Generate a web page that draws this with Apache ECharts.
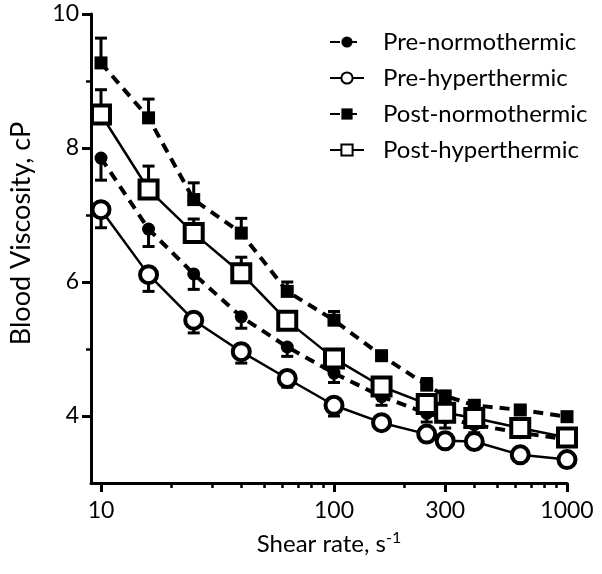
<!DOCTYPE html>
<html>
  <head>
    <meta charset="utf-8" />
    <title>Blood viscosity vs shear rate</title>
    <style>
      html, body { margin: 0; padding: 0; background: #fff; }
    </style>
  </head>
  <body>
    <div id="chart" style="width: 602px; height: 574px"></div>
    <script src="https://cdn.jsdelivr.net/npm/echarts@6/dist/echarts.min.js"></script>
    <script>
      // shear rate (s^-1) on a log axis, viscosity in cP
      const shearRates = [10, 16, 25, 40, 63, 100, 160, 250, 300, 400, 630, 1000];

      const preNormo = [7.85, 6.79, 6.12, 5.48, 5.03, 4.64, 4.29, 4.04, 3.97, 3.87, 3.75, 3.65];
      const preHyper = [7.08, 6.11, 5.43, 4.96, 4.56, 4.16, 3.90, 3.73, 3.63, 3.62, 3.42, 3.35];
      const postNormo = [9.27, 8.45, 7.23, 6.73, 5.86, 5.43, 4.90, 4.46, 4.30, 4.16, 4.09, 3.99];
      const postHyper = [8.50, 7.38, 6.73, 6.13, 5.42, 4.86, 4.44, 4.18, 4.05, 3.97, 3.82, 3.68];

      // one-sided error bars (pre: drawn down, post: drawn up)
      const preNormoErr = [0.33, 0.26, 0.23, 0.17, 0.14, 0.14, 0.13, 0.13, 0.15, 0.12, 0.05, 0.05];
      const preHyperErr = [0.27, 0.25, 0.19, 0.17, 0.13, 0.16, 0.10, 0.11, 0.06, 0.07, 0.04, 0.05];
      const postNormoErr = [0.37, 0.28, 0.25, 0.22, 0.14, 0.13, 0.05, 0.10, 0.05, 0.05, 0.05, 0.03];
      const postHyperErr = [0.37, 0.35, 0.21, 0.24, 0.08, 0.08, 0.09, 0.10, 0.08, 0.06, 0.06, 0.05];

      const xMajorTicks = [10, 100, 300, 1000];
      const xMinorTicks = [20, 30, 40, 50, 60, 70, 80, 90, 200, 400, 500, 600, 700, 800, 900];
      const yMajorTicks = [4, 6, 8, 10];
      const yMinorTicks = [5, 7, 9];

      const FONT = 'Lato';
      const lg = (v) => Math.log10(v);

      function points(vals) {
        return vals.map((v, i) => [lg(shearRates[i]), v]);
      }

      function errData(vals, errs, dir) {
        return vals.map((v, i) => [lg(shearRates[i]), v, v + dir * errs[i]]);
      }

      function renderErr(params, api) {
        const p0 = api.coord([api.value(0), api.value(1)]);
        const p1 = api.coord([api.value(0), api.value(2)]);
        const half = 6;
        const st = { stroke: '#000', lineWidth: 3 };
        return {
          type: 'group',
          children: [
            { type: 'line', shape: { x1: p0[0], y1: p0[1], x2: p1[0], y2: p1[1] }, style: st },
            { type: 'line', shape: { x1: p1[0] - half, y1: p1[1], x2: p1[0] + half, y2: p1[1] }, style: st },
          ],
        };
      }

      function errSeries(vals, errs, dir) {
        return {
          type: 'custom',
          z: 1,
          renderItem: renderErr,
          data: errData(vals, errs, dir),
          silent: true,
        };
      }

      const dashed = { color: '#000', width: 4, type: [10, 7] };
      const solid = { color: '#000', width: 2.5, type: 'solid' };

      let chart = echarts.init(document.getElementById('chart'), null, {
        width: 602,
        height: 574,
      });

      const xMin = lg(9.06);
      const xMax = 3;

      const opts = {
        animation: false,
        textStyle: { fontFamily: FONT, color: '#000' },
        grid: { left: 87, right: 35, top: 14, bottom: 91 },
        legend: {
          data: ['Pre-normothermic', 'Pre-hyperthermic', 'Post-normothermic', 'Post-hyperthermic'],
          orient: 'vertical',
          left: 324,
          top: 25,
          itemWidth: 34,
          itemHeight: 14,
          itemGap: 12,
          textStyle: {
            fontFamily: FONT,
            fontSize: 24,
            color: '#000',
            lineHeight: 24,
            padding: [0, 0, 0, 14],
          },
        },
        xAxis: [
          {
            type: 'value',
            min: xMin,
            max: xMax,
            name: 'Shear rate, s{sup|-1}',
            nameLocation: 'middle',
            nameGap: 47,
            nameTextStyle: {
              fontFamily: FONT,
              fontSize: 24,
              color: '#000',
              rich: {
                sup: { fontFamily: FONT, fontSize: 16, color: '#000', verticalAlign: 'top', padding: [0, 0, 12, 0] },
              },
            },
            axisLine: { show: true, lineStyle: { color: '#000', width: 3 } },
            axisTick: {
              show: true,
              length: 9,
              lineStyle: { color: '#000', width: 3 },
              customValues: xMajorTicks.map(lg),
            },
            axisLabel: {
              show: true,
              margin: 16,
              fontSize: 23,
              color: '#000',
              fontFamily: FONT,
              customValues: xMajorTicks.map(lg),
              formatter: (v) => String(Math.round(Math.pow(10, v))),
            },
            splitLine: { show: false },
          },
          {
            type: 'value',
            min: xMin,
            max: xMax,
            position: 'bottom',
            axisLine: { show: false },
            axisTick: {
              show: true,
              length: 5,
              lineStyle: { color: '#000', width: 2.5 },
              customValues: xMinorTicks.map(lg),
            },
            axisLabel: { show: false },
            splitLine: { show: false },
          },
        ],
        yAxis: [
          {
            type: 'value',
            min: 3,
            max: 10,
            name: 'Blood Viscosity, cP',
            nameLocation: 'middle',
            nameGap: 56,
            nameTextStyle: { fontFamily: FONT, fontSize: 27, color: '#000', padding: [0, 0, 0, 30] },
            axisLine: { show: true, lineStyle: { color: '#000', width: 3 } },
            axisTick: {
              show: true,
              length: 9,
              lineStyle: { color: '#000', width: 3 },
              customValues: yMajorTicks,
            },
            axisLabel: {
              show: true,
              margin: 12,
              fontSize: 23,
              color: '#000',
              fontFamily: FONT,
              customValues: yMajorTicks,
            },
            splitLine: { show: false },
          },
          {
            type: 'value',
            min: 3,
            max: 10,
            position: 'left',
            axisLine: { show: false },
            axisTick: {
              show: true,
              length: 5,
              lineStyle: { color: '#000', width: 2.5 },
              customValues: yMinorTicks,
            },
            axisLabel: { show: false },
            splitLine: { show: false },
          },
        ],
        series: [
          errSeries(preNormo, preNormoErr, -1),
          errSeries(preHyper, preHyperErr, -1),
          errSeries(postNormo, postNormoErr, 1),
          errSeries(postHyper, postHyperErr, 1),
          {
            name: 'Pre-normothermic',
            type: 'line',
            z: 3,
            data: points(preNormo),
            symbol: 'circle',
            symbolSize: 13,
            lineStyle: dashed,
            itemStyle: { color: '#000' },
          },
          {
            name: 'Pre-hyperthermic',
            type: 'line',
            z: 3,
            data: points(preHyper),
            symbol: 'circle',
            symbolSize: 17,
            lineStyle: solid,
            itemStyle: { color: '#fff', borderColor: '#000', borderWidth: 4 },
          },
          {
            name: 'Post-normothermic',
            type: 'line',
            z: 3,
            data: points(postNormo),
            symbol: 'rect',
            symbolSize: 13,
            lineStyle: dashed,
            itemStyle: { color: '#000' },
          },
          {
            name: 'Post-hyperthermic',
            type: 'line',
            z: 3,
            data: points(postHyper),
            symbol: 'rect',
            symbolSize: 18,
            lineStyle: solid,
            itemStyle: { color: '#fff', borderColor: '#000', borderWidth: 4 },
          },
        ],
      };

      chart.setOption(opts);
    </script>
  </body>
</html>
